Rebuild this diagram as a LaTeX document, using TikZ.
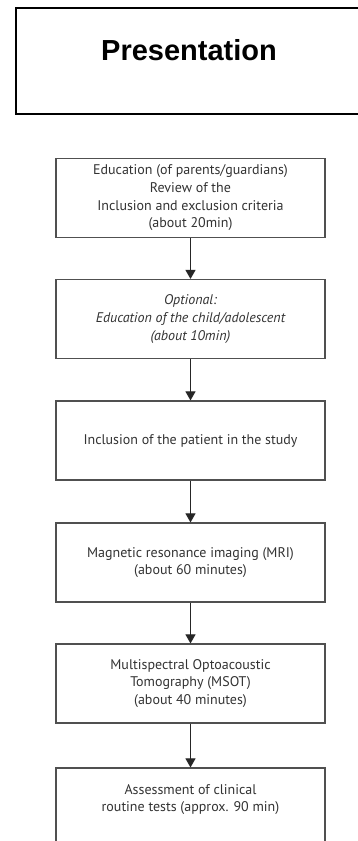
\documentclass[tikz,border=0pt]{standalone}
\usepackage{fontspec}
\setmainfont{PT Sans}
\newfontfamily\headfont{Liberation Sans}
\usetikzlibrary{arrows.meta}
\definecolor{boxline}{HTML}{505050}
\definecolor{txt}{HTML}{333333}
\tikzset{
  flowbox/.style={draw=boxline, line width=1.2pt, minimum width=269pt, minimum height=79pt,
    align=center, text=txt, inner sep=0pt, font=\fontsize{14}{17.7}\selectfont},
  flowtext/.style={align=center, text=txt, inner sep=0pt, font=\fontsize{14}{17.7}\selectfont},
  flowarrow/.style={draw=black!85, line width=1pt, -{Triangle[width=10pt,length=9pt]}},
}
\begin{document}
\begin{tikzpicture}[x=1pt,y=-1pt]
\useasboundingbox (0,0) rectangle (358,841);
\clip (0,0) rectangle (358,841);
\fill[white] (0,0) rectangle (358,841);
% top box
\draw[line width=1.5pt, black] (16,8) rectangle (400,114);
\node[inner sep=0pt, font=\headfont\bfseries\fontsize{29}{34}\selectfont] (pres) at (189,50) {Presentation};
% flow boxes
\node[flowbox] (b1) at (190.5,198) {Education (of parents/guardians)\\Review of the\\Inclusion and exclusion criteria\\(about 20min)};
\node[flowbox] (b2) at (190.5,319) {\itshape Optional:\\\itshape Education of the child/adolescent\\\itshape (about 10min)};
\node[flowbox] (b3) at (190.5,440.5) {Inclusion of the patient in the study};
\node[flowbox] (b4) at (190.5,562.5) {Magnetic resonance imaging (MRI)\\(about 60 minutes)};
\node[flowbox] (b5) at (190.5,683.5) {Multispectral Optoacoustic\\Tomography (MSOT)\\(about 40 minutes)};
\node[flowbox, minimum height=80pt] (b6) at (190.5,808) {};
\node[flowtext] (t6) at (190.5,799.5) {Assessment of clinical\\routine tests (approx. 90 min)};
% arrows
\draw[flowarrow] (b1) -- (b2);
\draw[flowarrow] (b2) -- (b3);
\draw[flowarrow] (b3) -- (b4);
\draw[flowarrow] (b4) -- (b5);
\draw[flowarrow] (b5) -- (b6);
\end{tikzpicture}
\end{document}
